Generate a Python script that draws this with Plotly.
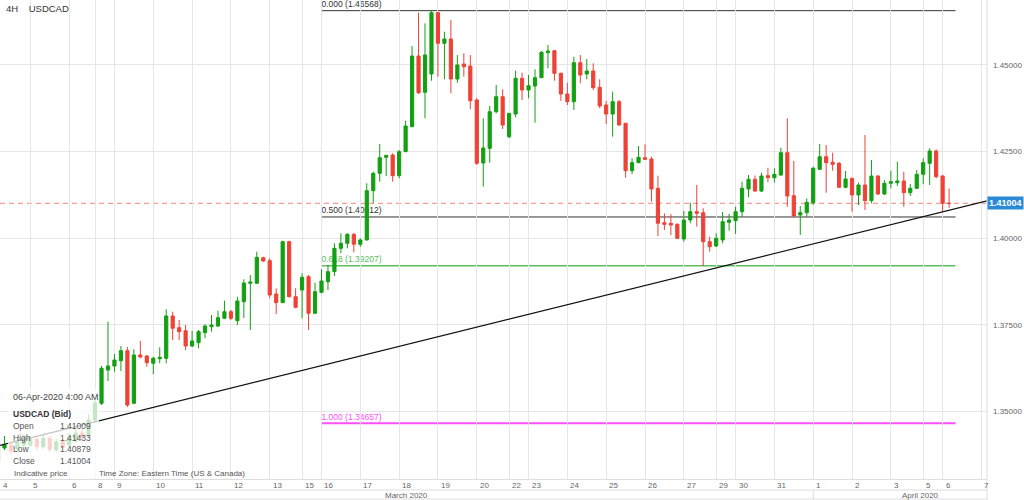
import plotly.graph_objects as go

# 4H USDCAD bars; bar 0 = first bar of Wed 4 Mar 2020 (only bars 1..148 are visible)
bar_index = list(range(1, 149))
opens = [
    1.33539, 1.33943, 1.34030, 1.33914, 1.34030, 1.34030, 1.34194, 1.33981, 1.34223, 1.33885,
    1.34125, 1.34030, 1.34145, 1.34376, 1.34290, 1.34751, 1.35233, 1.36195, 1.36310, 1.36463,
    1.36752, 1.35233, 1.36628, 1.36599, 1.36388, 1.36521, 1.36533, 1.37754, 1.37416, 1.37329,
    1.36888, 1.36983, 1.37272, 1.37445, 1.37465, 1.37687, 1.37878, 1.37618, 1.38166, 1.38698,
    1.38698, 1.39437, 1.39350, 1.38389, 1.38138, 1.39899, 1.38311, 1.38504, 1.38888, 1.37832,
    1.38438, 1.38744, 1.39033, 1.39708, 1.39852, 1.40112, 1.39824, 1.39948, 1.41371, 1.41873,
    1.42335, 1.42401, 1.41804, 1.42497, 1.43218, 1.45259, 1.44211, 1.44740, 1.46509, 1.45626,
    1.45750, 1.44595, 1.45028, 1.44971, 1.43989, 1.42171, 1.42595, 1.43651, 1.44084, 1.42930,
    1.43585, 1.44616, 1.44278, 1.44393, 1.44633, 1.45355, 1.45412, 1.44760, 1.44162, 1.43940,
    1.45066, 1.44740, 1.44826, 1.44356, 1.43845, 1.43585, 1.43940, 1.43317, 1.41948, 1.42179,
    1.42323, 1.42286, 1.41440, 1.40447, 1.40430, 1.40401, 1.39977, 1.40525, 1.40765, 1.40736,
    1.39899, 1.39774, 1.39948, 1.40459, 1.40505, 1.40765, 1.41420, 1.41700, 1.41362, 1.41804,
    1.41746, 1.41824, 1.42468, 1.41227, 1.40669, 1.40736, 1.41024, 1.41989, 1.42352, 1.42191,
    1.42162, 1.41469, 1.41729, 1.41247, 1.41535, 1.41082, 1.41795, 1.41276, 1.41585, 1.41602,
    1.41651, 1.41313, 1.41440, 1.41844, 1.42162, 1.42517, 1.41795, 1.41009,
]
highs = [
    1.34087, 1.34290, 1.34145, 1.34232, 1.34347, 1.34290, 1.34269, 1.34318, 1.34290, 1.34203,
    1.34203, 1.34376, 1.34520, 1.34520, 1.34925, 1.35329, 1.36310, 1.37589, 1.36657, 1.36888,
    1.36859, 1.36792, 1.37032, 1.36628, 1.36579, 1.36850, 1.37947, 1.37878, 1.37638, 1.37494,
    1.37321, 1.37350, 1.37514, 1.37783, 1.37907, 1.38195, 1.37927, 1.38311, 1.38813, 1.38937,
    1.39610, 1.39466, 1.39419, 1.38553, 1.39927, 1.39927, 1.38553, 1.38986, 1.38937, 1.38715,
    1.39102, 1.39226, 1.39852, 1.40141, 1.40141, 1.40141, 1.39997, 1.41585, 1.41919, 1.42719,
    1.42401, 1.42451, 1.42546, 1.43392, 1.45548, 1.46509, 1.46203, 1.46568, 1.46538, 1.45961,
    1.46299, 1.45288, 1.45337, 1.45288, 1.44038, 1.43461, 1.43816, 1.44422, 1.44298, 1.43614,
    1.44835, 1.44777, 1.44711, 1.44875, 1.45404, 1.45577, 1.45433, 1.44777, 1.44489, 1.45239,
    1.45288, 1.45173, 1.45049, 1.44587, 1.43960, 1.44229, 1.43989, 1.43325, 1.42306, 1.42661,
    1.42710, 1.42352, 1.41804, 1.40718, 1.40698, 1.40424, 1.40785, 1.41024, 1.41535, 1.40863,
    1.40043, 1.40141, 1.40756, 1.40698, 1.40909, 1.41631, 1.41824, 1.41810, 1.41890, 1.42035,
    1.42018, 1.42612, 1.43461, 1.42228, 1.40929, 1.41151, 1.42064, 1.42719, 1.42690, 1.42468,
    1.42199, 1.41940, 1.41738, 1.41602, 1.42979, 1.42257, 1.41824, 1.41680, 1.41948, 1.42208,
    1.41919, 1.41564, 1.41968, 1.42306, 1.42595, 1.42566, 1.41824, 1.41433,
]
lows = [
    1.33481, 1.33885, 1.33770, 1.33856, 1.33972, 1.33972, 1.33885, 1.33914, 1.33828, 1.33828,
    1.33885, 1.33972, 1.34087, 1.34145, 1.34232, 1.34694, 1.35184, 1.35877, 1.36146, 1.36166,
    1.35127, 1.35213, 1.36533, 1.36290, 1.36079, 1.36388, 1.36388, 1.37061, 1.37061, 1.36772,
    1.36859, 1.36821, 1.37110, 1.37301, 1.37436, 1.37667, 1.37638, 1.37494, 1.37696, 1.37350,
    1.38677, 1.39313, 1.38265, 1.37811, 1.38129, 1.38288, 1.37976, 1.37687, 1.37350, 1.37811,
    1.38409, 1.38504, 1.38908, 1.39564, 1.39708, 1.39593, 1.39754, 1.39934, 1.41007, 1.41631,
    1.41795, 1.41631, 1.41729, 1.42488, 1.43210, 1.44162, 1.43461, 1.44546, 1.44662, 1.44587,
    1.44183, 1.44489, 1.44662, 1.43721, 1.42113, 1.41486, 1.42179, 1.43605, 1.43152, 1.42884,
    1.43490, 1.43989, 1.44038, 1.43334, 1.44624, 1.44904, 1.44546, 1.43960, 1.43845, 1.43701,
    1.44471, 1.44587, 1.44278, 1.43750, 1.43296, 1.42930, 1.43253, 1.41746, 1.41853, 1.42171,
    1.42257, 1.41053, 1.40063, 1.40236, 1.40092, 1.39977, 1.39899, 1.40430, 1.40332, 1.39197,
    1.39610, 1.39746, 1.39852, 1.40216, 1.40121, 1.40620, 1.41180, 1.41333, 1.41333, 1.41613,
    1.41602, 1.41795, 1.40909, 1.40612, 1.40092, 1.40620, 1.40958, 1.41968, 1.41313, 1.41948,
    1.41449, 1.41440, 1.40765, 1.40958, 1.40814, 1.41007, 1.41247, 1.41247, 1.41440, 1.41507,
    1.40909, 1.41218, 1.41420, 1.41556, 1.41535, 1.41729, 1.40765, 1.40879,
]
closes = [
    1.34030, 1.34030, 1.33856, 1.34116, 1.34232, 1.34194, 1.33981, 1.34223, 1.33906, 1.34125,
    1.33963, 1.34269, 1.34376, 1.34232, 1.34751, 1.35242, 1.36244, 1.36310, 1.36484, 1.36752,
    1.35184, 1.36628, 1.36570, 1.36406, 1.36533, 1.36561, 1.37754, 1.37399, 1.37301, 1.36888,
    1.37032, 1.37301, 1.37465, 1.37494, 1.37705, 1.37878, 1.37687, 1.38187, 1.38706, 1.38735,
    1.39448, 1.39341, 1.38360, 1.38138, 1.39899, 1.38311, 1.38005, 1.38871, 1.37832, 1.38455,
    1.38764, 1.39033, 1.39708, 1.39852, 1.40112, 1.39824, 1.39948, 1.41371, 1.41873, 1.42324,
    1.42393, 1.41804, 1.42497, 1.43239, 1.45259, 1.44200, 1.45288, 1.46509, 1.45626, 1.45750,
    1.44595, 1.45000, 1.44951, 1.43969, 1.42162, 1.42604, 1.43651, 1.44084, 1.43267, 1.43605,
    1.44616, 1.44278, 1.44402, 1.44633, 1.45366, 1.45404, 1.44760, 1.44162, 1.43940, 1.45066,
    1.44711, 1.44826, 1.44344, 1.43816, 1.43585, 1.43940, 1.43267, 1.41948, 1.42179, 1.42335,
    1.42277, 1.41420, 1.40430, 1.40401, 1.40381, 1.39997, 1.40525, 1.40765, 1.40718, 1.39899,
    1.39754, 1.39997, 1.40476, 1.40525, 1.40765, 1.41440, 1.41700, 1.41362, 1.41795, 1.41746,
    1.41844, 1.42468, 1.41218, 1.40641, 1.40736, 1.41036, 1.42018, 1.42352, 1.42179, 1.42133,
    1.41469, 1.41709, 1.41247, 1.41535, 1.41082, 1.41795, 1.41276, 1.41585, 1.41631, 1.41651,
    1.41313, 1.41440, 1.41844, 1.42179, 1.42517, 1.41775, 1.41009, 1.41004,
]

# first bar of each trading day (same bar numbering)
day_labels = ["4", "5", "6", "8", "9", "10", "11", "12", "13", "15", "16", "17", "18", "19", "20",
              "22", "23", "24", "25", "26", "27", "29", "30", "31", "1", "2", "3", "5", "6", "7"]
day_start = [0, 6, 12, 16, 19, 25, 31, 37, 43, 48, 51, 57, 63, 69, 75,
             80, 83, 89, 95, 101, 107, 112, 115, 121, 127, 133, 139, 144, 147, 153]
month_labels = ["March 2020", "April 2020"]
month_pos = [64.2, 143.6]
month_break = 127

fib_levels = ["0.000", "0.500", "0.618", "1.000"]
fib_prices = [1.46568, 1.40612, 1.39207, 1.34657]
fib_span = [51, 149]

trend_x = [1.31, 153.86]
trend_y = [1.34021, 1.41079]

price_ticks = [1.35, 1.375, 1.40, 1.425, 1.45]
last_time = "06-Apr-2020 4:00 AM"

X_RANGE = [1.31, 153.86]
Y_RANGE = [1.33048, 1.46876]
PLOT_W, PLOT_H = 987, 479

GREEN = "#12a012"
RED = "#ef4136"
GRID = "#e6e6e6"
FONT = "Liberation Sans, Arial, sans-serif"
fib_colors = ["#333333", "#333333", "#5cbd5c", "#ff4dff"]
fib_widths = [1, 1, 1.5, 2]


def px(x, y):
    """pixel position inside the plot area -> paper coordinates"""
    return x / PLOT_W, (PLOT_H - y) / PLOT_H


fig = go.Figure()

fig.add_trace(go.Candlestick(
    x=bar_index, open=opens, high=highs, low=lows, close=closes,
    increasing=dict(line=dict(color=GREEN, width=1), fillcolor=GREEN),
    decreasing=dict(line=dict(color=RED, width=1), fillcolor=RED),
    whiskerwidth=0, hoverinfo="skip", showlegend=False,
))

shapes = []
# fibonacci levels
for lvl, price, col, w in zip(fib_levels, fib_prices, fib_colors, fib_widths):
    shapes.append(dict(
        type="line", xref="x", yref="y", x0=fib_span[0], x1=fib_span[1], y0=price, y1=price,
        line=dict(color=col, width=w), layer="below",
        label=dict(text=f"{lvl} ({price:.5f})", textposition="start", xanchor="left",
                   yanchor="bottom", padding=2, font=dict(size=8.5, color=col, family=FONT)),
    ))
# last price line
shapes.append(dict(type="line", xref="paper", yref="y", x0=0, x1=1, y0=closes[-1], y1=closes[-1],
                   line=dict(color="#f39e98", width=1.2, dash="5px,4px"), layer="below"))
# trend line
shapes.append(dict(type="line", xref="x", yref="y", x0=trend_x[0], x1=trend_x[1],
                   y0=trend_y[0], y1=trend_y[1], line=dict(color="#111111", width=1.2), layer="above"))
# info box overlay
bx0, by0 = px(8, 478)
bx1, by1 = px(99, 388)
shapes.append(dict(type="rect", xref="paper", yref="paper", x0=bx0, x1=bx1, y0=by0, y1=by1,
                   fillcolor="rgba(255,255,255,0.75)", line=dict(width=0), layer="above"))
# date axis rows
for yy in (490, 499):
    shapes.append(dict(type="line", xref="paper", yref="paper", x0=0, x1=1,
                       y0=px(0, yy)[1], y1=px(0, yy)[1], line=dict(color="#dddddd", width=1)))
shapes.append(dict(type="line", xref="x", yref="paper", x0=month_break, x1=month_break,
                   y0=px(0, 490)[1], y1=px(0, 499)[1], line=dict(color="#dddddd", width=1)))
shapes.append(dict(type="line", xref="paper", yref="paper", x0=1, x1=1,
                   y0=px(0, 500)[1], y1=1, line=dict(color="#dddddd", width=1)))

annotations = []
# title
tx, ty = px(4, 9)
annotations.append(dict(text="4H&nbsp;&nbsp;&nbsp;&nbsp;USDCAD", x=tx, y=ty, xref="paper", yref="paper",
                        xanchor="left", yanchor="middle", showarrow=False,
                        font=dict(size=9.5, color="#333333")))
# day labels
for lab, d in zip(day_labels, day_start):
    annotations.append(dict(text=lab, x=max(d, X_RANGE[0]), y=0, xref="x", yref="paper",
                            xanchor="left", yanchor="top", xshift=1, yshift=0, showarrow=False,
                            font=dict(size=8, color="#666666")))
for lab, m in zip(month_labels, month_pos):
    annotations.append(dict(text=lab, x=m, y=px(0, 495)[1], xref="x", yref="paper",
                            xanchor="center", yanchor="middle", showarrow=False,
                            font=dict(size=8, color="#666666")))
# last price tag
annotations.append(dict(text=f"<b>{closes[-1]:.5f}</b>", x=1, y=closes[-1], xref="paper", yref="y",
                        xanchor="left", yanchor="middle", showarrow=False, bgcolor="#2b8ad6",
                        borderpad=1, font=dict(size=9, color="white")))
# info box text
info_rows = [("Open", opens[-1]), ("High", highs[-1]), ("Low", lows[-1]), ("Close", closes[-1])]
ix, iy = px(11, 397)
annotations.append(dict(text=last_time, x=ix, y=iy, xref="paper", yref="paper", xanchor="left",
                        yanchor="middle", showarrow=False, font=dict(size=9, color="#444444")))
ix, iy = px(11, 414)
annotations.append(dict(text="<b>USDCAD (Bid)</b>", x=ix, y=iy, xref="paper", yref="paper",
                        xanchor="left", yanchor="middle", showarrow=False,
                        font=dict(size=8.5, color="#333333")))
for k, (name, val) in enumerate(info_rows):
    yy = 426 + k * 11.5
    lx, ly = px(11, yy)
    rx, _ = px(93, yy)
    annotations.append(dict(text=name, x=lx, y=ly, xref="paper", yref="paper", xanchor="left",
                            yanchor="middle", showarrow=False, font=dict(size=8.5, color="#555555")))
    annotations.append(dict(text=f"{val:.5f}", x=rx, y=ly, xref="paper", yref="paper",
                            xanchor="right", yanchor="middle", showarrow=False,
                            font=dict(size=8.5, color="#555555")))
lx, ly = px(12, 473)
annotations.append(dict(text="Indicative price", x=lx, y=ly, xref="paper", yref="paper",
                        xanchor="left", yanchor="middle", showarrow=False,
                        font=dict(size=8, color="#555555")))
lx, ly = px(97, 473)
annotations.append(dict(text="Time Zone: Eastern Time (US & Canada)", x=lx, y=ly, xref="paper",
                        yref="paper", xanchor="left", yanchor="middle", showarrow=False,
                        font=dict(size=8, color="#555555")))

fig.update_layout(
    width=1024, height=500,
    margin=dict(l=0, r=37, t=0, b=21),
    paper_bgcolor="white", plot_bgcolor="white",
    font=dict(family=FONT, size=8, color="#555555"),
    showlegend=False,
    xaxis=dict(range=X_RANGE, tickvals=day_start, showticklabels=False, ticks="",
               showgrid=True, gridcolor=GRID, gridwidth=1, zeroline=False,
               showline=True, linecolor="#dddddd", rangeslider=dict(visible=False)),
    yaxis=dict(side="right", range=Y_RANGE, tickvals=price_ticks, tickformat=".5f", ticks="",
               showgrid=True, gridcolor=GRID, zeroline=False, showline=False, automargin=False,
               ticklabelstandoff=5, tickfont=dict(size=8, color="#666666")),
    shapes=shapes, annotations=annotations,
)

# page has no body margin so the 1024x500 figure fills the window exactly
fig.write_html("out.html", config={"displayModeBar": False},
               post_script="document.body.style.margin='0';"
                           "document.body.style.overflow='hidden';")
